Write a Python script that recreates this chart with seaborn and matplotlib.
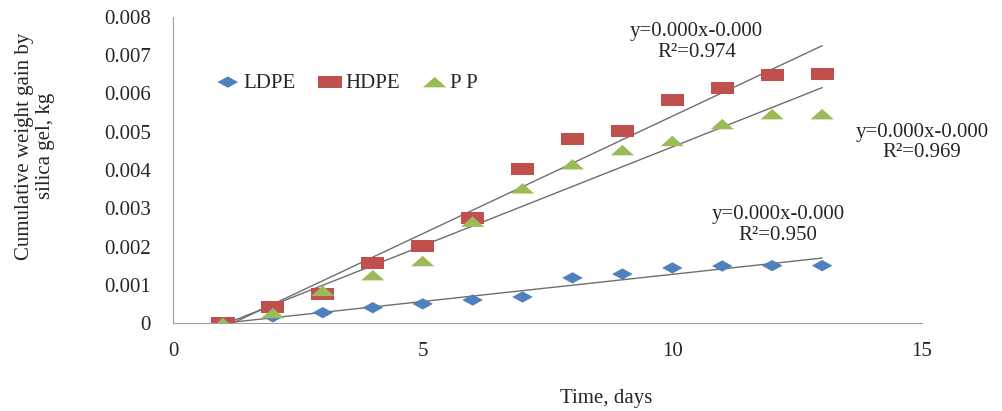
import numpy as np
import matplotlib
matplotlib.use("Agg")
import matplotlib.pyplot as plt
import seaborn as sns
from matplotlib.ticker import FuncFormatter

# datos
dias = [1, 2, 3, 4, 5, 6, 7, 8, 9, 10, 11, 12, 13]
ldpe = [0, 0.00016, 0.00027, 0.0004, 0.0005, 0.0006, 0.00068, 0.00118, 0.00128, 0.00144, 0.00149, 0.0015, 0.0015]
hdpe = [0, 0.00041, 0.00076, 0.00157, 0.00202, 0.00274, 0.00402, 0.00481, 0.00502, 0.00583, 0.00615, 0.00649, 0.0065]
pp = [0, 0.00026, 0.00084, 0.00125, 0.00162, 0.00265, 0.00352, 0.00415, 0.00452, 0.00476, 0.0052, 0.00546, 0.00546]
etiquetas = ["LDPE", "HDPE", "P P"]
r2 = ["0.950", "0.974", "0.969"]

sns.set_style("white")
plt.rcParams['font.family'] = ['Liberation Serif', 'DejaVu Serif']

fig = plt.figure(figsize=(10.02, 4.11), dpi=100)
ax = fig.add_axes([173/1002, 1-323/411, (922-173)/1002, (323-17)/411])

# marcadores estirados como en el original
diamante = [(0, -0.55), (1, 0), (0, 0.55), (-1, 0)]
rectangulo = [(-1, -0.52), (1, -0.52), (1, 0.52), (-1, 0.52)]
triangulo = [(-1, -0.45), (1, -0.45), (0, 0.45)]

series = [(ldpe, '#4f81bd', diamante, 220), (hdpe, '#c0504d', rectangulo, 280), (pp, '#9bbb59', triangulo, 280)]
for (vals, col, mk, s), lab in zip(series, etiquetas):
    sns.scatterplot(x=dias, y=vals, marker=mk, s=s, color=col, edgecolor='none', label=lab, ax=ax, zorder=3)
for vals, _, _, _ in series:
    sns.regplot(x=dias, y=vals, scatter=False, ci=None, truncate=True,
                line_kws=dict(color='#6e6e6e', lw=1), ax=ax)

fs = 15
ax.set_xlim(0, 15)
ax.set_ylim(0, 0.008)
ax.set_xticks([0, 5, 10, 15])
ax.set_yticks(np.arange(0, 0.0081, 0.001))
ax.yaxis.set_major_formatter(FuncFormatter(lambda v, _: '0' if abs(v) < 1e-9 else f'{v:.3f}'))
ax.tick_params(axis='both', labelsize=fs, direction='out', color='#a0a0a0', width=1)
ax.tick_params(axis='x', pad=10, length=4)
ax.tick_params(axis='y', pad=8, length=8)
for sp in ['top', 'right']:
    ax.spines[sp].set_visible(False)
for sp in ['left', 'bottom']:
    ax.spines[sp].set_color('#a0a0a0')

ax.set_xlabel('Time, days', fontsize=fs)
ax.xaxis.set_label_coords(0.578, -0.215)
ax.set_ylabel('Cumulative weight gain by\nsilica gel, kg', fontsize=fs, linespacing=1.1)
ax.yaxis.set_label_coords(-0.158, 0.578)

ax.legend(loc='center left', bbox_to_anchor=(0.03, 0.785), ncol=3, frameon=False, fontsize=fs,
          handletextpad=0.1, columnspacing=1.0, handlelength=1.3)

# ecuaciones de tendencia
ax.text(0.699, 0.918, 'y=0.000x-0.000\nR²=' + r2[1], transform=ax.transAxes,
        ha='center', va='center', fontsize=fs, linespacing=1.1)
ax.text(1.0, 0.59, 'y=0.000x-0.000\nR²=' + r2[2], transform=ax.transAxes,
        ha='center', va='center', fontsize=fs, linespacing=1.1)
ax.text(0.808, 0.32, 'y=0.000x-0.000\nR²=' + r2[0], transform=ax.transAxes,
        ha='center', va='center', fontsize=fs, linespacing=1.1)

fig.savefig('out.png', dpi=100)
